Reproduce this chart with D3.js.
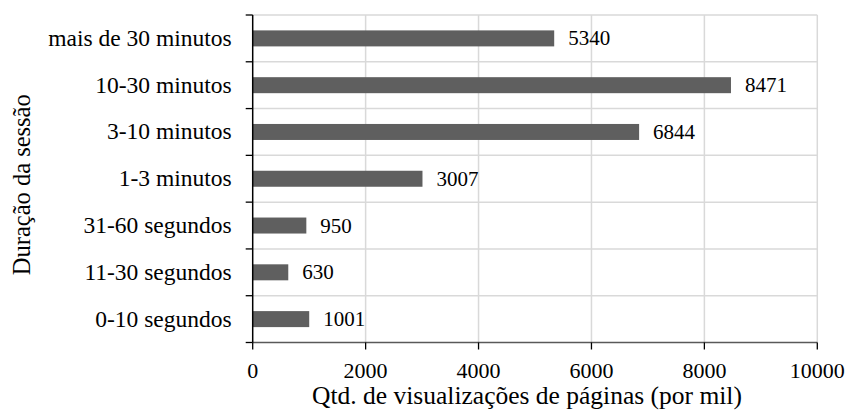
<!DOCTYPE html>
<html><head><meta charset="utf-8">
<script src="https://cdn.jsdelivr.net/npm/d3@7"></script>
</head>
<body style="margin:0;background:#fff"><svg id="c" width="849" height="413"></svg>
<script>
const categories = ["mais de 30 minutos","10-30 minutos","3-10 minutos","1-3 minutos","31-60 segundos","11-30 segundos","0-10 segundos"];
const values = [5340, 8471, 6844, 3007, 950, 630, 1001];
const xTicks = [0, 2000, 4000, 6000, 8000, 10000];
const xTitle = "Qtd. de visualizações de páginas (por mil)";
const yTitle = "Duração da sessão";

const FONT = "Liberation Serif";
const svg = d3.select("#c");
const L = 252.7, R = 817.3, T = 15, B = 342.5;
const x = d3.scaleLinear().domain([0, 10000]).range([L, R]);
const y = d3.scaleBand().domain(categories).range([T, B]);
const bw = y.bandwidth();

function txt(sel, size) {
  return sel.style("font-family", FONT).style("font-size", size + "px").style("fill", "#000");
}

// gridlines
svg.append("g").selectAll("line").data(xTicks.slice(1)).join("line")
  .attr("x1", d => x(d)).attr("x2", d => x(d)).attr("y1", T).attr("y2", B)
  .attr("stroke", "#d9d9d9").attr("stroke-width", 1.5);
const bounds = categories.map(c => y(c)).concat([B]);
svg.append("g").selectAll("line").data(bounds.slice(0, -1)).join("line")
  .attr("x1", L).attr("x2", R).attr("y1", d => d).attr("y2", d => d)
  .attr("stroke", "#d9d9d9").attr("stroke-width", 1.5);

// bars
const barH = 16;
svg.append("g").selectAll("rect").data(values).join("rect")
  .attr("x", x(0)).attr("y", (d, i) => y(categories[i]) + bw / 2 - barH / 2)
  .attr("width", d => x(d) - x(0)).attr("height", barH)
  .attr("fill", "#5f5f5f");

// x axis line and ticks
svg.append("line").attr("x1", x(0)).attr("x2", x(10000)).attr("y1", B).attr("y2", B)
  .attr("stroke", "#595959").attr("stroke-width", 1.5);
svg.append("g").selectAll("line").data(xTicks).join("line")
  .attr("x1", d => x(d)).attr("x2", d => x(d)).attr("y1", B).attr("y2", B + 7)
  .attr("stroke", "#000").attr("stroke-width", 1.3);

// y axis line and ticks
svg.append("line").attr("x1", L).attr("x2", L).attr("y1", T).attr("y2", B)
  .attr("stroke", "#000").attr("stroke-width", 1.5);
svg.append("g").selectAll("line").data(bounds).join("line")
  .attr("x1", L - 7).attr("x2", L).attr("y1", d => d).attr("y2", d => d)
  .attr("stroke", "#000").attr("stroke-width", 1.3);

// value labels
txt(svg.append("g").selectAll("text").data(values).join("text")
  .attr("x", d => x(d) + 14).attr("y", (d, i) => y(categories[i]) + bw / 2 + 7)
  .text(d => d), 21);

// x tick labels
txt(svg.append("g").selectAll("text").data(xTicks).join("text")
  .attr("x", d => x(d)).attr("y", 378).attr("text-anchor", "middle").text(d => d), 22);

// category labels
txt(svg.append("g").selectAll("text").data(categories).join("text")
  .attr("x", L - 21).attr("y", d => y(d) + bw / 2 + 7.5).attr("text-anchor", "end").text(d => d), 23.5);

// titles
txt(svg.append("text").attr("x", 527).attr("y", 404).attr("text-anchor", "middle").text(xTitle), 25.5);
txt(svg.append("text").attr("transform", `translate(30,${(T + B) / 2 + 6}) rotate(-90)`)
  .attr("text-anchor", "middle").text(yTitle), 24.5);
</script></body></html>
